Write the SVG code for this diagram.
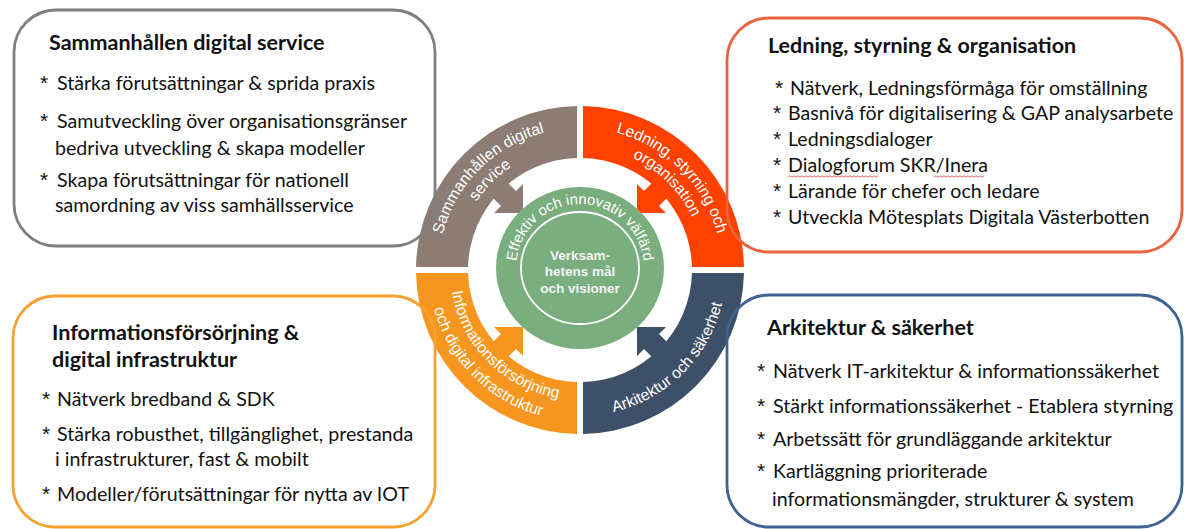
<svg xmlns="http://www.w3.org/2000/svg" width="1184" height="529" viewBox="0 0 1184 529">
<defs>
<path id="band" d="M 3,-163.97 A 164 164 0 0 1 163.97,-3 L 111.96,-3 A 112 112 0 0 0 3,-111.96 Z"/>
<path id="arrow" d="M57,-57 L57,-86 L64,-79 L84,-99 L99,-84 L79,-64 L86,-57 Z"/>
<path id="p-g1" d="M 438,270 A 142 142 0 0 1 580,128"/>
<path id="p-g2" d="M 456,270 A 124 124 0 0 1 580,146"/>
<path id="p-r1" d="M 580,128 A 142 142 0 0 1 722,270"/>
<path id="p-r2" d="M 580,146 A 124 124 0 0 1 704,270"/>
<path id="p-o1" d="M 450,270 A 130 130 0 0 0 580,400"/>
<path id="p-o2" d="M 429,270 A 151 151 0 0 0 580,421"/>
<path id="p-n1" d="M 580,416 A 146 146 0 0 0 726,270"/>
<path id="p-c" d="M 516.97,279.11 A 64 64 0 1 1 643.03,279.11"/>
</defs>
<style>
.box{fill:none;stroke-width:2.8}
.t{font-family:Lato,'Open Sans',sans-serif;font-size:19.6px;fill:#111}
.s{font-family:'Liberation Sans',Arial,sans-serif;font-size:21px}
.h{font-family:Lato,'Open Sans',sans-serif;font-weight:bold;font-size:21.5px;fill:#111}
.q{font-family:'Liberation Sans',Arial,sans-serif;font-size:15.8px;fill:#fff}
.c{font-family:'Liberation Sans',Arial,sans-serif;font-size:13.5px;font-weight:bold;fill:#f4f4f4;text-anchor:middle}
.sq{fill:none;stroke:#e04848;stroke-width:0.8}
</style>
<rect width="1184" height="529" fill="#fff"/>

<g id="seg-sammanhallen" transform="translate(580,270) rotate(270)"><use href="#band" fill="#8C7C74"/></g>
<g id="seg-ledning" transform="translate(580,270)"><use href="#band" fill="#FF4100"/></g>
<g id="seg-informationsforsorjning" transform="translate(580,270) rotate(180)"><use href="#band" fill="#F7961E"/></g>
<g id="seg-arkitektur" transform="translate(580,270) rotate(90)"><use href="#band" fill="#3E5068"/></g>

<g id="connectors">
<use href="#arrow" fill="#8C7C74" transform="translate(580,270) rotate(270)"/>
<use href="#arrow" fill="#FF4100" transform="translate(580,270)"/>
<use href="#arrow" fill="#F7961E" transform="translate(580,270) rotate(180)"/>
<use href="#arrow" fill="#3E5068" transform="translate(580,270) rotate(90)"/>
</g>

<g id="center">
<ellipse cx="580" cy="268" rx="84" ry="81" fill="#7AAE7E"/>
<ellipse cx="580" cy="268" rx="59" ry="56" fill="none" stroke="#fff" stroke-width="1.8"/>
<text class="q" style="font-size:14.8px"><textPath href="#p-c" startOffset="50%" text-anchor="middle">Effektiv och innovativ välfärd</textPath></text>
<text class="c" x="580" y="259.5">Verksam-</text>
<text class="c" x="580" y="276">hetens mål</text>
<text class="c" x="580" y="292.5">och visioner</text>
</g>

<g id="seg-labels">
<text class="q"><textPath href="#p-g1" startOffset="50%" text-anchor="middle">Sammanhållen digital</textPath></text>
<text class="q"><textPath href="#p-g2" startOffset="50%" text-anchor="middle">service</textPath></text>
<text class="q"><textPath href="#p-r1" startOffset="50%" text-anchor="middle">Ledning, styrning och</textPath></text>
<text class="q"><textPath href="#p-r2" startOffset="50%" text-anchor="middle">organisation</textPath></text>
<text class="q"><textPath href="#p-o1" startOffset="50%" text-anchor="middle">Informationsförsörjning</textPath></text>
<text class="q"><textPath href="#p-o2" startOffset="50%" text-anchor="middle">och digital infrastruktur</textPath></text>
<text class="q"><textPath href="#p-n1" startOffset="50%" text-anchor="middle">Arkitektur och säkerhet</textPath></text>
</g>

<g id="box-sammanhallen">
<rect class="box" x="14" y="10" width="421" height="236" rx="42" stroke="#7F7F7F"/>
<text class="h" x="49" y="50">Sammanhållen digital service</text>
<text class="t" y="90"><tspan class="s" x="40">*</tspan><tspan x="57">Stärka förutsättningar &amp; sprida praxis</tspan></text>
<text class="t" y="128"><tspan class="s" x="40">*</tspan><tspan x="57">Samutveckling över organisationsgränser</tspan></text>
<text class="t" x="55" y="155">bedriva utveckling &amp; skapa modeller</text>
<text class="t" y="187"><tspan class="s" x="40">*</tspan><tspan x="57">Skapa förutsättningar för nationell</tspan></text>
<text class="t" x="55" y="212">samordning av viss samhällsservice</text>
</g>

<g id="box-ledning">
<rect class="box" x="727" y="18" width="455" height="234" rx="42" stroke="#E9633F"/>
<text class="h" x="768" y="53">Ledning, styrning &amp; organisation</text>
<text class="t" y="95"><tspan class="s" x="775">*</tspan><tspan x="790">Nätverk, Ledningsförmåga för omställning</tspan></text>
<text class="t" y="120"><tspan class="s" x="773">*</tspan><tspan x="788">Basnivå för digitalisering &amp; GAP analysarbete</tspan></text>
<text class="t" y="146"><tspan class="s" x="773">*</tspan><tspan x="788">Ledningsdialoger</tspan></text>
<text class="t" y="172"><tspan class="s" x="773">*</tspan><tspan x="788">Dialogforum SKR/Inera</tspan></text>
<path class="sq" d="M788,177 l2,-1.2 l2,1.2 l2,-1.2 l2,1.2 l2,-1.2 l2,1.2 l2,-1.2 l2,1.2 l2,-1.2 l2,1.2 l2,-1.2 l2,1.2 l2,-1.2 l2,1.2 l2,-1.2 l2,1.2 l2,-1.2 l2,1.2 l2,-1.2 l2,1.2 l2,-1.2 l2,1.2 l2,-1.2 l2,1.2 l2,-1.2 l2,1.2 l2,-1.2 l2,1.2 l2,-1.2 l2,1.2 l2,-1.2 l2,1.2 l2,-1.2 l2,1.2 l2,-1.2 l2,1.2 l2,-1.2 l2,1.2 l2,-1.2 l2,1.2 l2,-1.2 l2,1.2 l2,-1.2 l2,1.2 l2,-1.2"/>
<path class="sq" d="M934,177 l2,-1.2 l2,1.2 l2,-1.2 l2,1.2 l2,-1.2 l2,1.2 l2,-1.2 l2,1.2 l2,-1.2 l2,1.2 l2,-1.2 l2,1.2 l2,-1.2 l2,1.2 l2,-1.2 l2,1.2 l2,-1.2 l2,1.2 l2,-1.2 l2,1.2 l2,-1.2 l2,1.2 l2,-1.2 l2,1.2 l2,-1.2"/>
<text class="t" y="198"><tspan class="s" x="773">*</tspan><tspan x="788">Lärande för chefer och ledare</tspan></text>
<text class="t" y="224"><tspan class="s" x="773">*</tspan><tspan x="788">Utveckla Mötesplats Digitala Västerbotten</tspan></text>
</g>

<g id="box-informationsforsorjning">
<rect class="box" x="13" y="296" width="422" height="231" rx="42" stroke="#F5A233"/>
<text class="h" x="52" y="340">Informationsförsörjning &amp;</text>
<text class="h" x="52" y="367">digital infrastruktur</text>
<text class="t" y="406"><tspan class="s" x="42">*</tspan><tspan x="57">Nätverk bredband &amp; SDK</tspan></text>
<text class="t" y="441"><tspan class="s" x="42">*</tspan><tspan x="57">Stärka robusthet, tillgänglighet, prestanda</tspan></text>
<text class="t" x="55" y="466">i infrastrukturer, fast &amp; mobilt</text>
<text class="t" y="501"><tspan class="s" x="42">*</tspan><tspan x="57">Modeller/förutsättningar för nytta av IOT</tspan></text>
</g>

<g id="box-arkitektur">
<rect class="box" x="727" y="295" width="455" height="232" rx="42" stroke="#3F6290"/>
<text class="h" x="767" y="335">Arkitektur &amp; säkerhet</text>
<text class="t" y="378"><tspan class="s" x="757">*</tspan><tspan x="773">Nätverk IT-arkitektur &amp; informationssäkerhet</tspan></text>
<text class="t" y="413"><tspan class="s" x="757">*</tspan><tspan x="773">Stärkt informationssäkerhet - Etablera styrning</tspan></text>
<text class="t" y="446"><tspan class="s" x="757">*</tspan><tspan x="773">Arbetssätt för grundläggande arkitektur</tspan></text>
<text class="t" y="478"><tspan class="s" x="757">*</tspan><tspan x="773">Kartläggning prioriterade</tspan></text>
<text class="t" x="772" y="506">informationsmängder, strukturer &amp; system</text>
</g>
</svg>
